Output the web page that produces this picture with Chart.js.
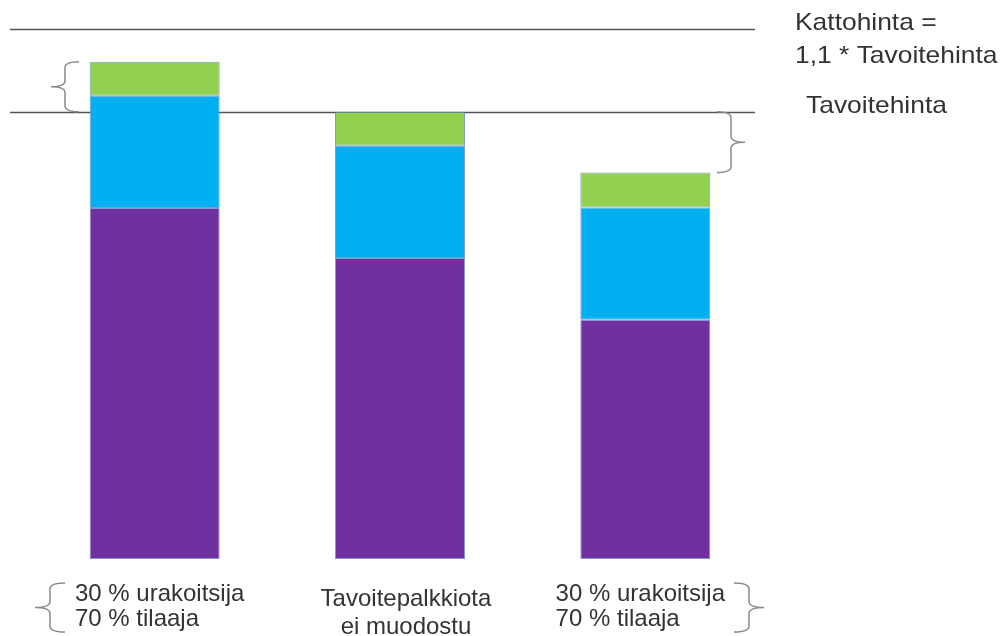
<!DOCTYPE html>
<html>
<head>
<meta charset="utf-8">
<script src="https://cdn.jsdelivr.net/npm/chart.js@4"></script>
<style>
  html, body { margin: 0; padding: 0; background: #fff; }
  #wrap { width: 1001px; height: 636px; position: relative; }
</style>
</head>
<body>
<div id="wrap"><canvas id="priceChart"></canvas></div>
<script>
// Data (Tavoitehinta = 100)
const categories = [
  ["30 % urakoitsija", "70 % tilaaja"],
  ["Tavoitepalkkiota", "ei muodostu"],
  ["30 % urakoitsija", "70 % tilaaja"],
];
const purpleValues = [78.5, 67.3, 53.5];
const blueValues = [25.1, 25.1, 25.1];
const greenValues = [7.6, 7.6, 7.8];
const targetPrice = 100;   // Tavoitehinta
const ceilingPrice = 118.6; // Kattohinta line as drawn
const ceilingLabel = ["Kattohinta =", "1,1 * Tavoitehinta"];
const targetLabel = "Tavoitehinta";

const textColor = "#333";
const fontFamily = "'Liberation Sans', Arial, sans-serif";

function drawBrace(ctx, x, y1, y2, w) {
  // w < 0 : tip points left, w > 0 : tip points right
  const mid = (y1 + y2) / 2;
  const r = Math.min(6, (y2 - y1) / 4);
  ctx.beginPath();
  ctx.moveTo(x - w, y1);
  ctx.quadraticCurveTo(x, y1, x, y1 + r);
  ctx.lineTo(x, mid - r);
  ctx.quadraticCurveTo(x, mid, x + w, mid);
  ctx.quadraticCurveTo(x, mid, x, mid + r);
  ctx.lineTo(x, y2 - r);
  ctx.quadraticCurveTo(x, y2, x - w, y2);
  ctx.stroke();
}

// stretched text, like the picture
function wideText(ctx, text, x, y, sx) {
  ctx.save();
  ctx.translate(x, y);
  ctx.scale(sx, 1);
  ctx.fillText(text, 0, 0);
  ctx.restore();
}

// Horizontal price lines, drawn under the bars
const priceLines = {
  id: "priceLines",
  beforeDatasetsDraw(chart) {
    const { ctx, scales: { y } } = chart;
    ctx.save();
    ctx.strokeStyle = "#555";
    ctx.lineWidth = 1.5;
    [ceilingPrice, targetPrice].forEach((v) => {
      const py = Math.round(y.getPixelForValue(v)) + 0.5;
      ctx.beginPath();
      ctx.moveTo(10, py);
      ctx.lineTo(755, py);
      ctx.stroke();
    });
    ctx.restore();
  },
};

// Labels and braces
const annotations = {
  id: "annotations",
  afterDraw(chart) {
    const { ctx, scales: { x, y } } = chart;
    ctx.save();
    ctx.fillStyle = textColor;
    ctx.font = "24px " + fontFamily;
    ctx.textBaseline = "middle";

    // right side labels
    const yCeil = y.getPixelForValue(ceilingPrice);
    const yTarget = y.getPixelForValue(targetPrice);
    ctx.textAlign = "left";
    wideText(ctx, ceilingLabel[0], 795, yCeil - 5, 1.1);
    wideText(ctx, ceilingLabel[1], 795, yCeil + 28, 1.1);
    wideText(ctx, targetLabel, 806, yTarget - 5, 1.1);

    // category labels under bars
    categories.forEach((lines, i) => {
      const cx = x.getPixelForValue(i);
      const y0 = i === 1 ? 599 : 594;
      const lh = i === 1 ? 28 : 25;
      if (i === 1) {
        ctx.textAlign = "center";
        lines.forEach((t, j) => ctx.fillText(t, cx + 6, y0 + j * lh));
      } else {
        const wMax = Math.max(...lines.map((t) => ctx.measureText(t).width));
        ctx.textAlign = "left";
        lines.forEach((t, j) => ctx.fillText(t, cx - wMax / 2 + (i === 0 ? 5 : -5), y0 + j * lh));
      }
    });

    // braces
    ctx.strokeStyle = "#8a8a8a";
    ctx.lineWidth = 1.5;
    const top1 = y.getPixelForValue(purpleValues[0] + blueValues[0] + greenValues[0]);
    const top3 = y.getPixelForValue(purpleValues[2] + blueValues[2] + greenValues[2]);
    drawBrace(ctx, 65, top1, yTarget, -14);
    drawBrace(ctx, 731, yTarget, top3, 14);
    drawBrace(ctx, 50, 583, 632, -15);
    drawBrace(ctx, 749, 583, 632, 15);
    ctx.restore();
  },
};

const barStyle = {
  borderColor: "rgba(90, 130, 190, 0.8)",
  borderWidth: 1,
  borderSkipped: false,
  barPercentage: 0.53,
  categoryPercentage: 1,
};

new Chart(document.getElementById("priceChart"), {
  type: "bar",
  data: {
    labels: categories,
    datasets: [
      { label: "Kustannukset", data: purpleValues, backgroundColor: "#7030a0", ...barStyle },
      { label: "Osuus", data: blueValues, backgroundColor: "#00b0f0", ...barStyle },
      { label: "Palkkio", data: greenValues, backgroundColor: "#92d050", ...barStyle },
    ],
  },
  options: {
    responsive: true,
    maintainAspectRatio: false,
    animation: false,
    layout: { padding: { left: 32, right: 233, top: 0, bottom: 77 } },
    plugins: {
      legend: { display: false },
      tooltip: { enabled: false },
    },
    scales: {
      x: { stacked: true, display: false },
      y: { stacked: true, display: false, min: 0, max: 125 },
    },
  },
  plugins: [priceLines, annotations],
});
</script>
</body>
</html>
